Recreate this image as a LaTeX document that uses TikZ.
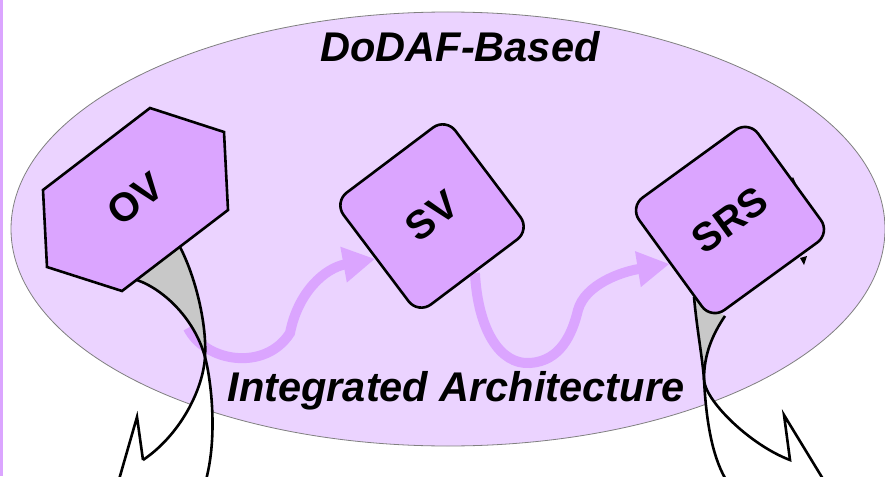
\documentclass[tikz,border=0pt]{standalone}
\usepackage{fontspec}
\setmainfont{Liberation Sans}
\usetikzlibrary{arrows.meta}
\definecolor{haze}{HTML}{EBD3FF}
\definecolor{lilac}{HTML}{DBA5FF}
\definecolor{tailgray}{HTML}{C8C8C8}
\pgfdeclarelayer{ground}
\pgfdeclarelayer{flows}
\pgfdeclarelayer{tails}
\pgfsetlayers{ground,flows,tails,main}

\begin{document}
\begin{tikzpicture}[x=1pt,y=-1pt,
  viewbox/.style={draw=black, line width=2.6pt, fill=lilac, rounded corners=16pt,
    inner sep=0pt, minimum width=140pt, minimum height=140pt,
    font=\fontsize{40}{40}\selectfont\bfseries},
  boxlabel/.style={inner sep=0pt, font=\fontsize{40}{40}\selectfont\bfseries},
  flow/.style={draw=lilac, line width=10pt, -{Triangle[width=34pt,length=32pt]}},
  tailline/.style={draw=black, line width=2.6pt, line join=miter},
  title/.style={font=\fontsize{41.5}{42}\selectfont\bfseries\itshape, inner sep=0pt, anchor=base}]

\useasboundingbox (0,0) rectangle (885,476);
\clip (0,0) rectangle (885,476);

% page, side strip and the big ellipse
\begin{pgfonlayer}{ground}
  \fill[white] (0,0) rectangle (885,476);
  \fill[lilac] (0,0) rectangle (3,476);
  \fill[haze] (448,229) ellipse [x radius=437, y radius=217];
  \draw[gray, line width=0.8pt] (448,229) ellipse [x radius=437, y radius=217];
\end{pgfonlayer}

% view boxes
\draw[line width=2.6pt, fill=lilac, line join=miter]
  (150,108) -- (224,132) -- (228,210) -- (122,291) -- (47,267) -- (43,190) -- cycle;
\node[boxlabel, rotate=37] (ov) at (135,199) {OV};
\node[viewbox, rotate=37] (sv) at (432,216) {SV};
\node[viewbox, rotate=36, minimum width=147pt, minimum height=139pt] (srs) at (730,220) {SRS};

% titles
\node[title] (top) at (460,62) {DoDAF-Based};
\node[title] (bottom) at (456,401) {Integrated Architecture};

% flow arrows between the views
\begin{pgfonlayer}{flows}
  \coordinate (a1) at (188,328);
  \draw[flow] (a1) .. controls (205,362) and (265,372) .. (290,333)
    .. controls (298,292) and (325,268) .. (sv.west);
  \draw[flow] (sv.south) .. controls (478,330) and (500,365) .. (530,363)
    .. controls (560,361) and (572,335) .. (578,310)
    .. controls (585,285) and (620,272) .. (srs.west);
\end{pgfonlayer}

% callout tails
\begin{pgfonlayer}{tails}
  % OV callout
  \coordinate (ovL) at (137,280);
  \coordinate (ovR) at (180,247);
  \coordinate (ovX) at (205,357);
  \fill[tailgray] (ovR) -- (ovL) .. controls (165,290) and (195,320) .. (ovX)
    .. controls (207,325) and (196,278) .. (ovR) -- cycle;
  \fill[white] (114,497) -- (137,417) -- (143,460)
    .. controls (180,435) and (203,390) .. (ovX)
    .. controls (210,375) and (218,430) .. (207,476) -- (203,497) -- cycle;
  \draw[tailline] (143,460) .. controls (180,435) and (203,390) .. (ovX)
    .. controls (207,325) and (196,278) .. (ovR);
  \draw[tailline] (ovL) .. controls (165,290) and (195,320) .. (ovX)
    .. controls (210,375) and (218,430) .. (207,476) -- (203,497);
  \draw[tailline] (114,497) -- (137,417) -- (143,460);

  % SRS callout
  \coordinate (srL) at (694,297);
  \coordinate (srR) at (725,316);
  \coordinate (srX) at (704,379);
  \fill[tailgray] (srL) .. controls (697,330) and (702,355) .. (srX)
    .. controls (704,355) and (712,335) .. (srR) -- cycle;
  \fill[white] (srX) .. controls (704,400) and (750,445) .. (790,460)
    -- (784,415) -- (834,497) -- (735,496) -- (725,478)
    .. controls (712,455) and (706,420) .. (srX);
  \draw[tailline] (srL) .. controls (697,330) and (702,355) .. (srX)
    .. controls (706,420) and (712,455) .. (725,478) -- (735,496);
  \draw[tailline] (srR) .. controls (712,335) and (704,355) .. (srX)
    .. controls (704,400) and (750,445) .. (790,460) -- (784,415) -- (834,497);

  % small tips peeking out behind SRS
  \fill (788,186) -- (793,177) -- (797,186) -- cycle;
  \fill (800,258) -- (804,265) -- (807,256) -- cycle;
\end{pgfonlayer}
\end{tikzpicture}
\end{document}
